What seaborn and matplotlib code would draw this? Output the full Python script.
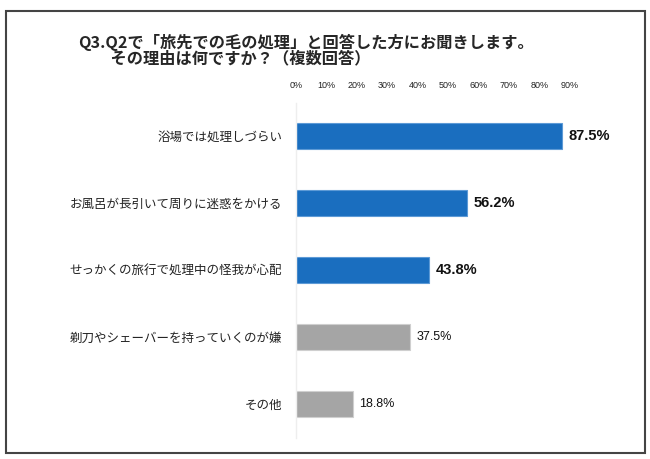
import matplotlib
matplotlib.use("Agg")
from matplotlib import pyplot as plt
from matplotlib.patches import Rectangle
import pandas as pd
import seaborn as sns

labels = [
    "浴場では処理しづらい",
    "お風呂が長引いて周りに迷惑をかける",
    "せっかくの旅行で処理中の怪我が心配",
    "剃刀やシェーバーを持っていくのが嫌",
    "その他",
]
values = [87.5, 56.2, 43.8, 37.5, 18.8]
highlight = [True, True, True, False, False]
ticks = [0, 10, 20, 30, 40, 50, 60, 70, 80, 90]

BLUE = "#1a6ebf"
GRAY = "#a5a5a5"

sns.set_theme(style="white")
plt.rcParams["font.family"] = ["Noto Sans CJK JP", "DejaVu Sans"]

df = pd.DataFrame({"label": labels, "value": values, "hl": highlight})
colors = {l: (BLUE if h else GRAY) for l, h in zip(labels, highlight)}

fig = plt.figure(figsize=(6.5, 4.59), dpi=100)
ax = fig.add_axes([296 / 650, 21.5 / 459, 304 / 650, 335 / 459])

sns.barplot(df, x="value", y="label", hue="label", palette=colors,
            legend=False, width=0.39, ax=ax, saturation=1)

for bar, h in zip(ax.patches, highlight):
    bar.set_edgecolor("#5d9ad6" if h else "#cfcfcf")
    bar.set_linewidth(0.8)

ax.set_xlim(0, 100)
ax.set_ylim(4.5, -0.5)
ax.set_xticks(ticks)
ax.set_xticklabels([f"{t}%" for t in ticks], fontsize=6.5, color="#222222",
                   family="Liberation Sans")
ax.xaxis.tick_top()
ax.tick_params(axis="x", length=0, pad=9)
ax.tick_params(axis="y", length=0, pad=10, labelsize=9)
ax.set_yticks(range(len(labels)))
ax.set_yticklabels(labels, fontsize=9, color="#222222")
ax.set_xlabel("")
ax.set_ylabel("")
for side in ["top", "right", "bottom"]:
    ax.spines[side].set_visible(False)
ax.spines["left"].set_color("#eeeeee")
ax.spines["left"].set_linewidth(1.0)

# value labels: bold for the highlighted (blue) bars
for i, (v, h) in enumerate(zip(values, highlight)):
    ax.text(v + 2.1, i, f"{v:.1f}%", va="center", ha="left",
            fontsize=10.5 if h else 9,
            fontweight="bold" if h else "normal", color="#111111",
            family="Liberation Sans")

title = ("Q3.Q2で「旅先での毛の処理」と回答した方にお聞きします。\n"
         "\u3000\u3000その理由は何ですか？（複数回答）")
fig.text(78 / 650, 1 - 50 / 459, title, fontsize=11.7, fontweight="bold",
         va="center", ha="left", linespacing=0.93)

fig.patches.append(Rectangle((6 / 650, 1 - 453 / 459), 639 / 650, 442 / 459,
                             transform=fig.transFigure, fill=False,
                             edgecolor="#444444", linewidth=1.5))

fig.savefig("out.png", dpi=100)
